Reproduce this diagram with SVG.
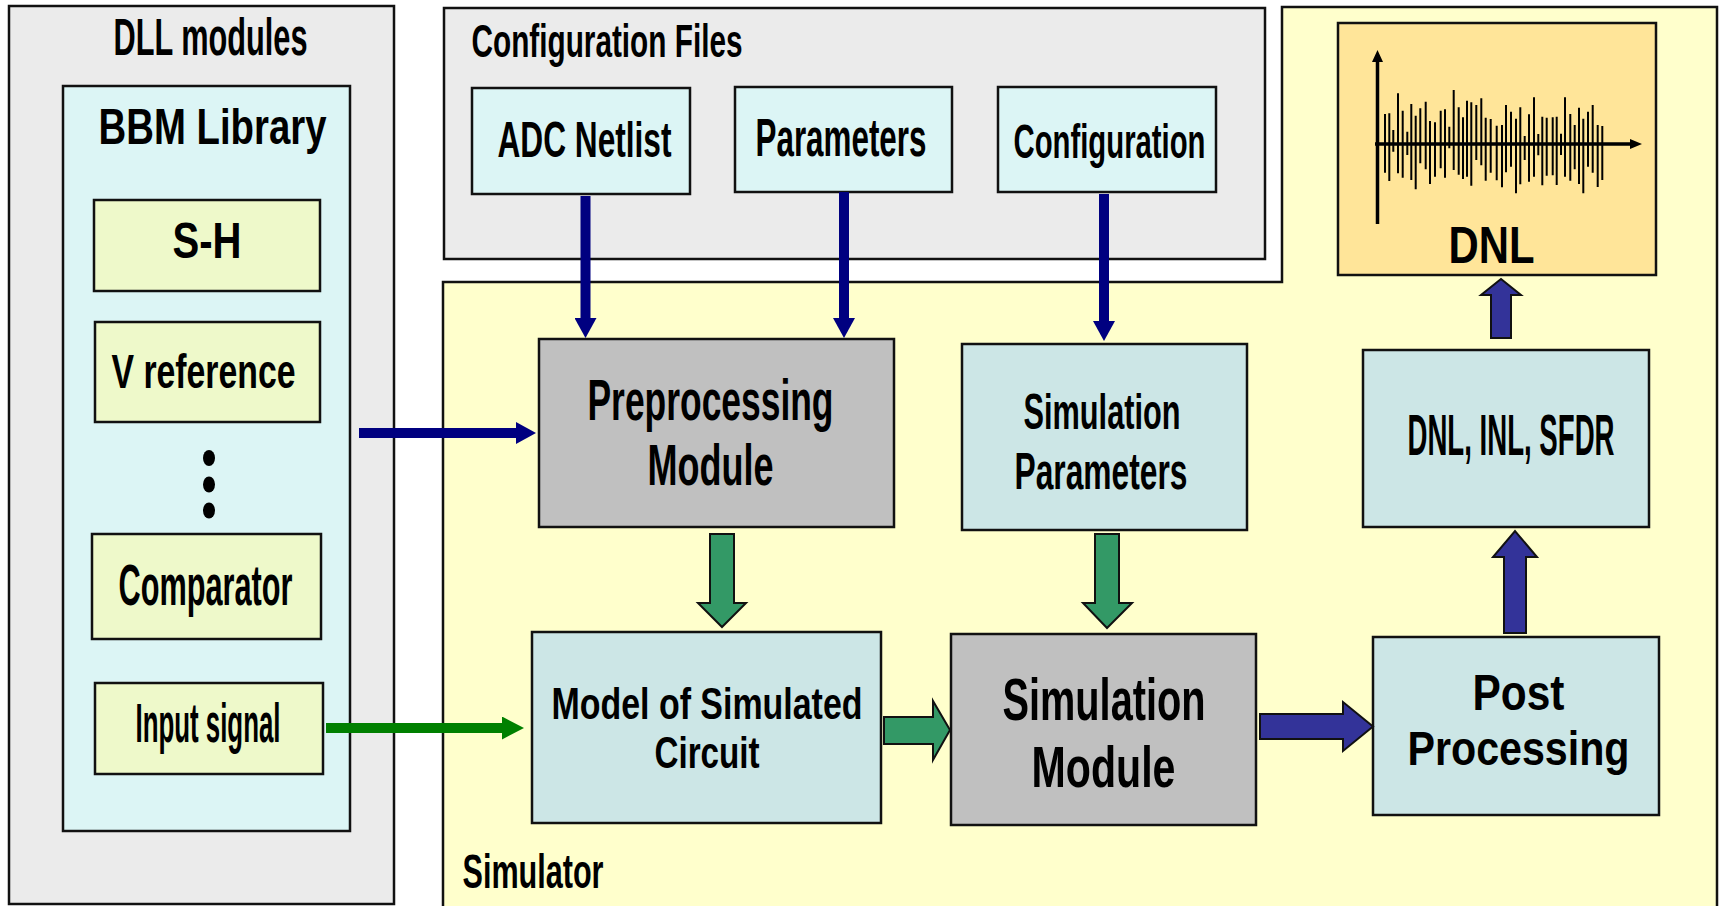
<svg xmlns="http://www.w3.org/2000/svg" width="1725" height="906" viewBox="0 0 1725 906">
  <style>
    .box { stroke: #111; stroke-width: 2.5; }
    .grey-panel { fill: #ebebeb; }
    .lib { fill: #dcf5f5; }
    .item { fill: #eef9ca; }
    .sim { fill: #cce6e6; }
    .module { fill: #c0c0c0; }
    .chart { fill: #ffe599; }
    text { font-family: "Liberation Sans", Arial, sans-serif; font-weight: bold; fill: #000; text-anchor: middle; }
    .navy { stroke: #000080; stroke-width: 10; fill: none; }
    .green { stroke: #008000; stroke-width: 10; fill: none; }
    .block-green { fill: #339966; stroke: #111; stroke-width: 2; }
    .block-blue { fill: #333399; stroke: #111; stroke-width: 2; }
    .axis { stroke: #000; stroke-width: 3.5; fill: none; }
    .spike { stroke: #000; stroke-width: 2; fill: none; }
  </style>
  <defs>
    <marker id="head-navy" markerUnits="userSpaceOnUse" markerWidth="20" markerHeight="22" viewBox="0 0 20 22" refX="0" refY="11" orient="auto">
      <path d="M0,0 L20,11 L0,22 Z" fill="#000080"/>
    </marker>
    <marker id="head-green" markerUnits="userSpaceOnUse" markerWidth="22" markerHeight="23" viewBox="0 0 22 23" refX="0" refY="11.5" orient="auto">
      <path d="M0,0 L22,11.5 L0,23 Z" fill="#008000"/>
    </marker>
  </defs>

  <rect width="1725" height="906" fill="#fff"/>

  <!-- DLL modules panel -->
  <g id="dll-modules">
    <rect class="box grey-panel" x="9" y="6" width="385" height="898"/>
    <text x="210.5" y="55" font-size="51" textLength="194" lengthAdjust="spacingAndGlyphs">DLL modules</text>
  </g>

  <g id="bbm-library">
    <rect class="box lib" x="63" y="86" width="287" height="745"/>
    <text x="212.5" y="144" font-size="50" textLength="228" lengthAdjust="spacingAndGlyphs">BBM Library</text>
  </g>

  <g id="sh">
    <rect class="box item" x="94" y="200" width="226" height="91"/>
    <text x="207" y="258" font-size="50" textLength="69" lengthAdjust="spacingAndGlyphs">S-H</text>
  </g>

  <g id="vref">
    <rect class="box item" x="95" y="322" width="225" height="100"/>
    <text x="203.5" y="388" font-size="49" textLength="184" lengthAdjust="spacingAndGlyphs">V reference</text>
  </g>

  <g id="ellipsis">
    <ellipse cx="209" cy="458" rx="6" ry="8" fill="#000"/>
    <ellipse cx="209" cy="484.5" rx="6" ry="8" fill="#000"/>
    <ellipse cx="209" cy="510.5" rx="6" ry="8" fill="#000"/>
  </g>

  <g id="comparator">
    <rect class="box item" x="92" y="534" width="229" height="105"/>
    <text x="205.5" y="605" font-size="58" textLength="174" lengthAdjust="spacingAndGlyphs">Comparator</text>
  </g>

  <g id="input-signal">
    <rect class="box item" x="95" y="683" width="228" height="91"/>
    <text x="208" y="742" font-size="56" textLength="145" lengthAdjust="spacingAndGlyphs">Input signal</text>
  </g>

  <!-- Configuration files panel -->
  <g id="config-files">
    <rect class="box grey-panel" x="444" y="8" width="821" height="251"/>
    <text x="607" y="57" font-size="47" textLength="271" lengthAdjust="spacingAndGlyphs">Configuration Files</text>
  </g>

  <g id="adc-netlist">
    <rect class="box lib" x="472" y="88" width="218" height="106"/>
    <text x="584.5" y="157" font-size="50" textLength="174" lengthAdjust="spacingAndGlyphs">ADC Netlist</text>
  </g>

  <g id="parameters">
    <rect class="box lib" x="735" y="87" width="217" height="105"/>
    <text x="841" y="156" font-size="53" textLength="171" lengthAdjust="spacingAndGlyphs">Parameters</text>
  </g>

  <g id="configuration">
    <rect class="box lib" x="998" y="87" width="218" height="105"/>
    <text x="1109.5" y="158" font-size="49" textLength="192" lengthAdjust="spacingAndGlyphs">Configuration</text>
  </g>

  <!-- Simulator area -->
  <g id="simulator">
    <path class="box" fill="#ffffcc" d="M443,282 H1282 V7 H1717 V912 H443 Z"/>
    <text x="533" y="888" font-size="49" textLength="141" lengthAdjust="spacingAndGlyphs">Simulator</text>
  </g>

  <g id="dnl-chart">
    <rect class="box chart" x="1338" y="23" width="318" height="252"/>
    <path class="axis" d="M1377.5,224 V60 M1375,144 H1632"/>
    <path d="M1372,62 L1377.5,50 L1383,62 Z M1630,139 L1642,144 L1630,149 Z" fill="#000"/>
    <path class="spike" d="M1385,114 V172.7 M1389.3,113.3 V181 M1393.3,130 V151.7 M1398,93.3 V173.3 M1402.7,110.7 V177.7 M1407.3,131.7 V155 M1411.3,104 V180 M1415.7,115.7 V189.3 M1420.3,108.3 V163.3 M1425.7,101.7 V169.3 M1430,121 V184 M1435,122.3 V176.7 M1440.7,110.7 V168.3 M1445,109.3 V177.7 M1449.3,126.7 V148.3 M1453.7,90 V170 M1458.7,107.3 V174.7 M1463,117.3 V179 M1467,100.7 V176.7 M1471.3,102.3 V185.7 M1476.3,105 V160 M1481.3,98.3 V165.3 M1485.7,117.7 V180.7 M1490.7,119 V172.7 M1496.7,125.7 V180.3 M1502,125 V187.3 M1506,105 V172.3 M1511,111.7 V166.7 M1516,118.7 V193.3 M1520.3,107.3 V184.3 M1524.7,136 V160 M1529,114.3 V181.7 M1534,97.3 V176.7 M1538.3,134 V155.3 M1542.3,116.7 V185.3 M1546.7,117.7 V175.7 M1552.7,117.3 V175.3 M1556.7,116.7 V185 M1561,133.7 V155 M1565,97.3 V176.7 M1570.3,114 V180.7 M1574.7,125 V169.3 M1579,107.7 V184 M1583.3,118.7 V193.3 M1588,111.7 V166.7 M1592.7,105 V172.7 M1597.7,125 V187 M1602.3,126 V180"/>
    <text x="1491.5" y="263" font-size="51" textLength="86" lengthAdjust="spacingAndGlyphs">DNL</text>
  </g>

  <g id="metrics">
    <rect class="box sim" x="1363" y="350" width="286" height="177"/>
    <text x="1511" y="455" font-size="57" textLength="207" lengthAdjust="spacingAndGlyphs">DNL, INL, SFDR</text>
  </g>

  <g id="post-processing">
    <rect class="box sim" x="1373" y="637" width="286" height="178"/>
    <text x="1518.5" y="710" font-size="50" textLength="92" lengthAdjust="spacingAndGlyphs">Post</text>
    <text x="1518.5" y="765" font-size="49" textLength="222" lengthAdjust="spacingAndGlyphs">Processing</text>
  </g>

  <g id="preprocessing-module">
    <rect class="box module" x="539" y="339" width="355" height="188"/>
    <text x="710.5" y="420" font-size="57" textLength="246" lengthAdjust="spacingAndGlyphs">Preprocessing</text>
    <text x="710.5" y="485" font-size="58" textLength="126" lengthAdjust="spacingAndGlyphs">Module</text>
  </g>

  <g id="simulation-parameters">
    <rect class="box sim" x="962" y="344" width="285" height="186"/>
    <text x="1102" y="429" font-size="50" textLength="157" lengthAdjust="spacingAndGlyphs">Simulation</text>
    <text x="1101" y="489" font-size="52" textLength="173" lengthAdjust="spacingAndGlyphs">Parameters</text>
  </g>

  <g id="circuit-model">
    <rect class="box sim" x="532" y="632" width="349" height="191"/>
    <text x="707" y="719" font-size="45" textLength="311" lengthAdjust="spacingAndGlyphs">Model of Simulated</text>
    <text x="707" y="768" font-size="44" textLength="105" lengthAdjust="spacingAndGlyphs">Circuit</text>
  </g>

  <g id="simulation-module">
    <rect class="box module" x="951" y="634" width="305" height="191"/>
    <text x="1104" y="720" font-size="60" textLength="203" lengthAdjust="spacingAndGlyphs">Simulation</text>
    <text x="1103.5" y="787" font-size="58" textLength="144" lengthAdjust="spacingAndGlyphs">Module</text>
  </g>

  <!-- Connectors -->
  <g id="connectors">
    <line class="navy" x1="585.5" y1="196" x2="585.5" y2="318" marker-end="url(#head-navy)"/>
    <line class="navy" x1="844" y1="192" x2="844" y2="318" marker-end="url(#head-navy)"/>
    <line class="navy" x1="1104" y1="194" x2="1104" y2="321" marker-end="url(#head-navy)"/>
    <line class="navy" x1="359" y1="433" x2="516" y2="433" marker-end="url(#head-navy)"/>
    <line class="green" x1="326" y1="728" x2="502" y2="728" marker-end="url(#head-green)"/>
    <polygon class="block-green" points="710,534 734,534 734,603 746,603 722,627 698,603 710,603"/>
    <polygon class="block-green" points="1095,534 1119,534 1119,603 1132,603 1107,628 1083,603 1095,603"/>
    <polygon class="block-green" points="884,717 933,717 933,701 950,730 933,760 933,744 884,744"/>
    <polygon class="block-blue" points="1260,714 1343,714 1343,702 1373,726.5 1343,751 1343,739 1260,739"/>
    <polygon class="block-blue" points="1504,633 1526,633 1526,557 1537,557 1515,531 1493,557 1504,557"/>
    <polygon class="block-blue" points="1491,338 1511,338 1511,295 1521,295 1501,279 1481,295 1491,295"/>
  </g>
</svg>
